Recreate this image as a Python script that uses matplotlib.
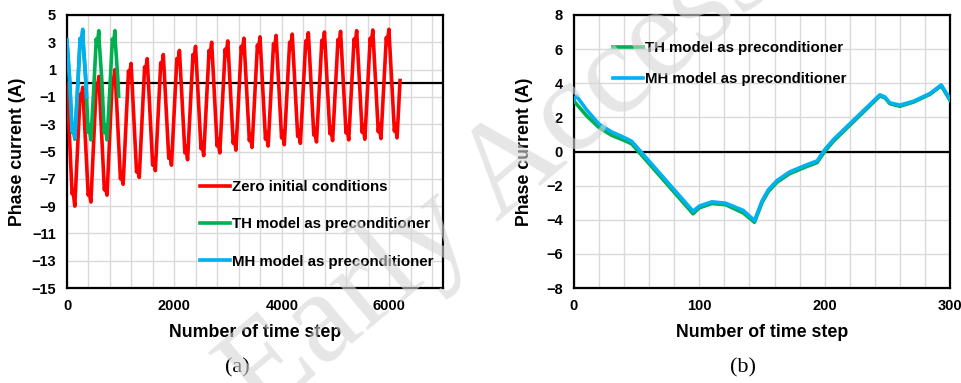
import numpy as np
import matplotlib
matplotlib.use("Agg")
import matplotlib.pyplot as plt
from matplotlib.ticker import MultipleLocator

plt.rcParams['font.family'] = ['Liberation Sans', 'DejaVu Sans']
plt.rcParams['font.weight'] = 'bold'

# ---- (a) full transient, 0..7000 steps ----
red_step = [0,
    95, 110, 145, 245, 260, 293,
    395, 410, 445, 545, 560, 593,
    695, 710, 745, 845, 860, 893,
    995, 1010, 1045, 1145, 1160, 1193,
    1295, 1310, 1345, 1445, 1460, 1493,
    1595, 1610, 1645, 1745, 1760, 1793,
    1895, 1910, 1945, 2045, 2060, 2093,
    2195, 2210, 2245, 2345, 2360, 2393,
    2495, 2510, 2545, 2645, 2660, 2693,
    2795, 2810, 2845, 2945, 2960, 2993,
    3095, 3110, 3145, 3245, 3260, 3293,
    3395, 3410, 3445, 3545, 3560, 3593,
    3695, 3710, 3745, 3845, 3860, 3893,
    3995, 4010, 4045, 4145, 4160, 4193,
    4295, 4310, 4345, 4445, 4460, 4493,
    4595, 4610, 4645, 4745, 4760, 4793,
    4895, 4910, 4945, 5045, 5060, 5093,
    5195, 5210, 5245, 5345, 5360, 5393,
    5495, 5510, 5545, 5645, 5660, 5693,
    5795, 5810, 5845, 5945, 5960, 5993,
    6095, 6110, 6145, 6200]
red_cur = [0.0,
    -8.1, -7.8, -9.0, -0.8, -1.2, -0.3,
    -8.2, -7.9, -8.7, -0.1, -0.5, 0.5,
    -7.8, -7.5, -8.2, 0.4, 0.0, 1.0,
    -7.0, -6.6, -7.4, 0.9, 0.5, 1.45,
    -6.5, -6.1, -6.9, 1.2, 0.8, 1.8,
    -6.0, -5.5, -6.4, 1.5, 1.1, 2.1,
    -5.5, -5.0, -6.0, 1.8, 1.4, 2.4,
    -5.1, -4.6, -5.6, 2.1, 1.6, 2.7,
    -4.8, -4.3, -5.3, 2.4, 1.9, 3.0,
    -4.6, -4.1, -5.1, 2.5, 2.0, 3.1,
    -4.4, -3.9, -4.9, 2.7, 2.2, 3.3,
    -4.2, -3.7, -4.7, 2.8, 2.3, 3.4,
    -4.1, -3.6, -4.6, 2.9, 2.4, 3.5,
    -4.0, -3.5, -4.5, 3.0, 2.5, 3.6,
    -3.9, -3.4, -4.4, 3.1, 2.6, 3.7,
    -3.8, -3.3, -4.3, 3.15, 2.65, 3.75,
    -3.7, -3.2, -4.2, 3.2, 2.7, 3.8,
    -3.65, -3.1, -4.15, 3.25, 2.75, 3.85,
    -3.6, -3.05, -4.1, 3.3, 2.8, 3.9,
    -3.55, -3.0, -4.05, 3.35, 2.85, 3.95,
    -3.5, -3.0, -4.0, 0.2]

th_step_a = [0, 45, 95, 110, 145, 195, 245, 260, 293, 300,
             345, 395, 410, 445, 495, 545, 560, 593, 600,
             645, 695, 710, 745, 795, 845, 860, 893, 900, 945, 962]
th_cur_a = [2.95, 0.45, -3.6, -3.05, -4.1, -0.6, 3.25, 2.75, 3.85, 3.0,
            0.45, -3.6, -3.05, -4.15, -0.6, 3.25, 2.75, 3.85, 3.0,
            0.45, -3.6, -3.05, -4.15, -0.6, 3.25, 2.75, 3.85, 3.0, 0.45, -0.95]

mh_step_a = [0, 45, 95, 110, 145, 195, 245, 260, 293, 300, 345, 365]
mh_cur_a = [3.2, 0.6, -3.5, -2.95, -4.0, -0.5, 3.3, 2.8, 3.95, 3.1, 0.6, -1.0]

# ---- (b) zoom on one period, 0..300 steps ----
th_step_b = [0, 10, 20, 30, 40, 46, 95, 100, 110, 121, 135, 144, 150, 155, 162,
             172, 185, 194, 200, 207, 244, 248, 252, 260, 271, 284, 293, 300]
th_cur_b = [2.95, 2.1, 1.4, 0.95, 0.65, 0.45, -3.65, -3.3, -3.05, -3.12, -3.6, -4.15,
            -3.0, -2.35, -1.8, -1.3, -0.9, -0.65, 0.0, 0.6, 3.25, 3.15, 2.8, 2.65,
            2.9, 3.35, 3.85, 3.0]

mh_step_b = [0, 2, 10, 20, 30, 40, 46, 95, 100, 110, 121, 135, 144, 150, 155, 162,
             172, 185, 194, 200, 207, 244, 248, 252, 260, 271, 284, 293, 300]
mh_cur_b = [3.05, 3.25, 2.45, 1.6, 1.15, 0.82, 0.6, -3.5, -3.2, -2.95, -3.03, -3.45, -4.05,
            -2.9, -2.25, -1.7, -1.2, -0.8, -0.55, 0.1, 0.7, 3.32, 3.2, 2.85, 2.72,
            2.95, 3.4, 3.9, 3.08]

RED = '#FF0000'
GREEN = '#00B050'
BLUE = '#00B0F0'
GRID = '#d9d9d9'
LW = 2.6

fig = plt.figure(figsize=(9.62, 3.83), dpi=100)
axa = fig.add_axes([67 / 962, 95 / 383, 376 / 962, 273 / 383])
axb = fig.add_axes([574 / 962, 95 / 383, 376 / 962, 273 / 383])


def style(ax, xmax, xmaj, xmin, ymin, ymax):
    ax.set_xlim(0, xmax)
    ax.set_ylim(ymin, ymax)
    ax.xaxis.set_major_locator(MultipleLocator(xmaj))
    ax.xaxis.set_minor_locator(MultipleLocator(xmin))
    ax.yaxis.set_major_locator(MultipleLocator(2))
    ax.grid(True, which='both', axis='x', color=GRID, lw=1.0, zorder=0)
    ax.grid(True, which='major', axis='y', color=GRID, lw=1.0, zorder=0)
    ax.set_axisbelow(True)
    ax.axhline(0, color='black', lw=1.6, zorder=1)
    for s in ax.spines.values():
        s.set_linewidth(1.6)
        s.set_color('black')
    ax.tick_params(which='both', length=0, labelsize=10.5, pad=8)
    for lab in ax.get_xticklabels() + ax.get_yticklabels():
        lab.set_fontweight('bold')
    ax.set_xlabel('Number of time step', fontsize=12.8, fontweight='bold', labelpad=8)
    ax.set_ylabel('Phase current (A)', fontsize=12.8, fontweight='bold')
    ax.yaxis.set_label_coords(-0.109, 0.5)


style(axa, 7000, 2000, 400, -15, 5)
axa.set_yticks(np.arange(-15, 6, 2))
axa.plot(red_step, red_cur, color=RED, lw=LW, zorder=3, label='Zero initial conditions')
axa.plot(th_step_a, th_cur_a, color=GREEN, lw=LW, zorder=4, label='TH model as preconditioner')
axa.plot(mh_step_a, mh_cur_a, color=BLUE, lw=LW, zorder=5, label='MH model as preconditioner')
axa.legend(loc='upper left', bbox_to_anchor=(0.354, 0.395), frameon=False,
           handlelength=2.0, handletextpad=0.15, labelspacing=1.55,
           borderpad=0, borderaxespad=0, prop={'weight': 'bold', 'size': 10.8})

style(axb, 300, 100, 20, -8, 8)
axb.plot(th_step_b, th_cur_b, color=GREEN, lw=LW, zorder=4, label='TH model as preconditioner')
axb.plot(mh_step_b, mh_cur_b, color=BLUE, lw=LW, zorder=5, label='MH model as preconditioner')
axb.legend(loc='upper left', bbox_to_anchor=(0.104, 0.905), frameon=False,
           handlelength=2.0, handletextpad=0.15, labelspacing=1.15,
           borderpad=0, borderaxespad=0, prop={'weight': 'bold', 'size': 10.8})

fig.text(237 / 962, 1 - 368 / 383, '(a)', ha='center', va='center',
         fontsize=16, family='Liberation Serif', fontweight='normal')
fig.text(743 / 962, 1 - 368 / 383, '(b)', ha='center', va='center',
         fontsize=16, family='Liberation Serif', fontweight='normal')

# faint diagonal watermark
fig.text(500 / 962, 1 - 178 / 383, 'Early Access', ha='center', va='center',
         rotation=40, rotation_mode='anchor', fontsize=94, family='Liberation Serif',
         fontweight='normal', color='#d6d6d6', alpha=0.6, zorder=10)

fig.savefig('out.png', dpi=100)
